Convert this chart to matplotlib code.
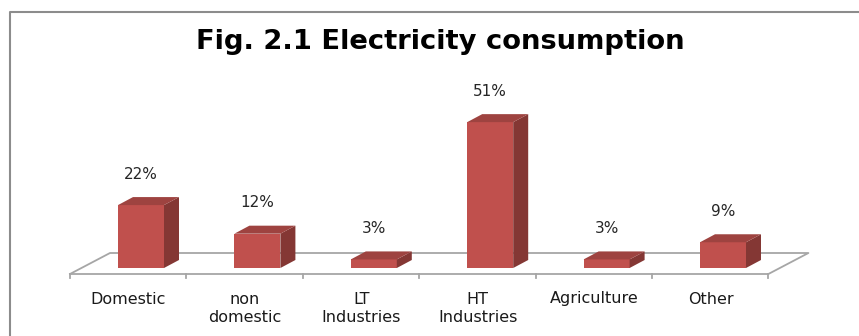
import matplotlib
matplotlib.use("Agg")
import matplotlib.pyplot as plt
from matplotlib.patches import Polygon
from matplotlib.lines import Line2D

categories = ["Domestic", "non\ndomestic", "LT\nIndustries", "HT\nIndustries", "Agriculture", "Other"]
values = [22, 12, 3, 51, 3, 9]
value_labels = ["22%", "12%", "3%", "51%", "3%", "9%"]
title = "Fig. 2.1 Electricity consumption"

W, H, DPI = 859, 336, 100
plt.rcParams['font.family'] = ['DejaVu Sans']
fig = plt.figure(figsize=(W / DPI, H / DPI), dpi=DPI)
ax = fig.add_axes([0, 0, 1, 1])
ax.set_axis_off()

# pixel mapping: category step 116.4 px, 2.86 px per percent
px_x0, step = 141.0, 116.4
px_y0, ppv = 268.0, 2.86
ax.set_xlim(-px_x0 / step, (W - px_x0) / step)
ax.set_ylim(-(H - px_y0) / ppv, px_y0 / ppv)

front = "#C0504D"
side = "#843734"
top = "#9E4340"
floor_c = "#A6A6A6"

n = len(categories)
bw = 46 / step
fx0, fx1 = -71 / step, -71 / step + n
fy = -6 / ppv
ddx, ddy = 40 / step, 21 / ppv  # full floor depth
bdx, bdy = 15 / step, 8 / ppv    # bar depth

ax.add_line(Line2D([fx0, fx1], [fy, fy], color=floor_c, lw=1.3))
ax.add_line(Line2D([fx0, fx0 + ddx, fx1 + ddx, fx1], [fy, fy + ddy, fy + ddy, fy],
                   color=floor_c, lw=1.3))
for i in range(n + 1):
    tx = fx0 + i
    ax.add_line(Line2D([tx, tx], [fy, fy - 4 / ppv], color=floor_c, lw=1.3))

ax.bar(range(n), values, width=bw, bottom=0, color=front, edgecolor="none", zorder=3)
for i, v in enumerate(values):
    xl, xr = i - bw / 2, i + bw / 2
    ax.add_patch(Polygon([[xr, 0], [xr + bdx, bdy], [xr + bdx, v + bdy], [xr, v]],
                         closed=True, facecolor=side, edgecolor="none", zorder=3))
    ax.add_patch(Polygon([[xl, v], [xr, v], [xr + bdx, v + bdy], [xl + bdx, v + bdy]],
                         closed=True, facecolor=top, edgecolor="none", zorder=3))
    ax.text(i, v + 10.8, value_labels[i], ha="center", va="center",
            fontsize=11, color="#262626")
    ax.text(i - 12.5 / step, -23.5 / ppv, categories[i], ha="center", va="top",
            fontsize=11.5, color="#1a1a1a", linespacing=1.3)

fig.text(440 / W, 1 - 42 / H, title, ha="center", va="center",
         fontsize=19.7, fontweight="bold", color="black")

fig.add_artist(Line2D([10 / W, 10 / W, 1.01], [-0.01, 1 - 12 / H, 1 - 12 / H],
                      transform=fig.transFigure, color="#8C8C8C", lw=1.5))

fig.savefig("out.png", dpi=DPI)
